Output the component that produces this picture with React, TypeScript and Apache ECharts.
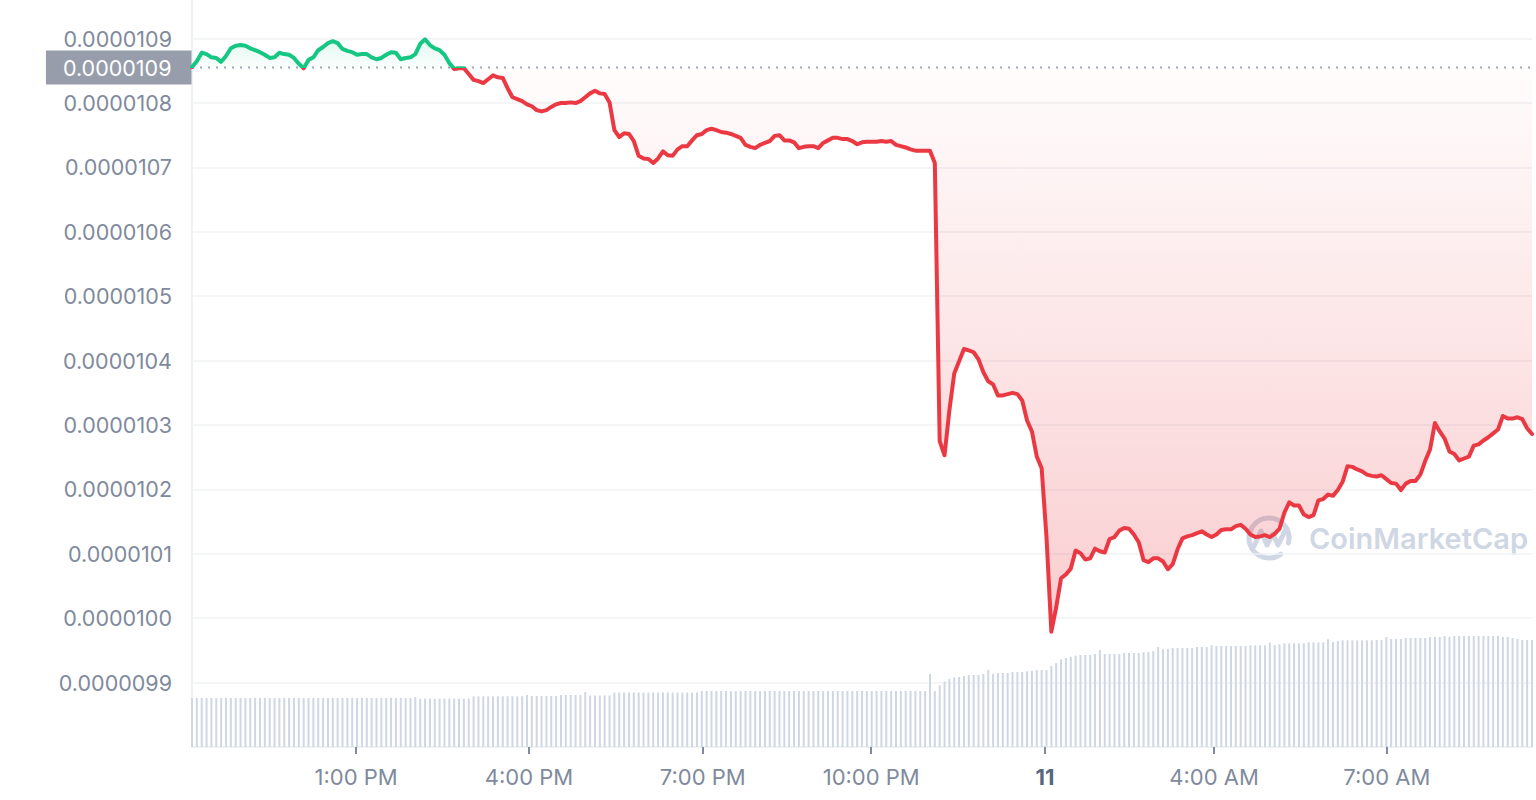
import React, { useEffect, useRef } from 'react';
import * as echarts from 'echarts';

// Opening price (dotted reference line)
const BASELINE = 108.55e-7;

// Price samples (5-minute steps, left to right)
const PRICES = [
  108.56e-7, 108.65e-7, 108.78e-7, 108.76e-7, 108.71e-7, 108.70e-7, 108.64e-7, 108.73e-7, 108.85e-7, 108.89e-7,
  108.90e-7, 108.89e-7, 108.85e-7, 108.82e-7, 108.79e-7, 108.75e-7, 108.70e-7, 108.71e-7, 108.78e-7, 108.76e-7,
  108.75e-7, 108.70e-7, 108.61e-7, 108.54e-7, 108.67e-7, 108.71e-7, 108.82e-7, 108.87e-7, 108.93e-7, 108.96e-7,
  108.93e-7, 108.84e-7, 108.81e-7, 108.79e-7, 108.75e-7, 108.76e-7, 108.76e-7, 108.71e-7, 108.68e-7, 108.70e-7,
  108.75e-7, 108.79e-7, 108.78e-7, 108.68e-7, 108.70e-7, 108.71e-7, 108.76e-7, 108.92e-7, 108.99e-7, 108.90e-7,
  108.85e-7, 108.82e-7, 108.75e-7, 108.62e-7, 108.53e-7, 108.54e-7, 108.54e-7, 108.45e-7, 108.36e-7, 108.34e-7,
  108.31e-7, 108.37e-7, 108.43e-7, 108.40e-7, 108.39e-7, 108.23e-7, 108.09e-7, 108.06e-7, 108.03e-7, 107.98e-7,
  107.95e-7, 107.89e-7, 107.87e-7, 107.89e-7, 107.94e-7, 107.98e-7, 108.00e-7, 108.00e-7, 108.01e-7, 108.00e-7,
  108.03e-7, 108.09e-7, 108.15e-7, 108.19e-7, 108.15e-7, 108.14e-7, 108.01e-7, 107.58e-7, 107.47e-7, 107.53e-7,
  107.52e-7, 107.41e-7, 107.18e-7, 107.14e-7, 107.13e-7, 107.07e-7, 107.14e-7, 107.25e-7, 107.19e-7, 107.18e-7,
  107.28e-7, 107.33e-7, 107.33e-7, 107.42e-7, 107.50e-7, 107.52e-7, 107.58e-7, 107.60e-7, 107.58e-7, 107.55e-7,
  107.54e-7, 107.52e-7, 107.49e-7, 107.46e-7, 107.35e-7, 107.32e-7, 107.30e-7, 107.35e-7, 107.38e-7, 107.41e-7,
  107.49e-7, 107.50e-7, 107.42e-7, 107.42e-7, 107.39e-7, 107.30e-7, 107.32e-7, 107.33e-7, 107.33e-7, 107.30e-7,
  107.38e-7, 107.42e-7, 107.46e-7, 107.46e-7, 107.44e-7, 107.44e-7, 107.41e-7, 107.36e-7, 107.39e-7, 107.40e-7,
  107.40e-7, 107.40e-7, 107.41e-7, 107.40e-7, 107.41e-7, 107.35e-7, 107.33e-7, 107.31e-7, 107.28e-7, 107.26e-7,
  107.26e-7, 107.26e-7, 107.26e-7, 107.07e-7, 102.75e-7, 102.53e-7, 103.23e-7, 103.80e-7, 103.99e-7, 104.18e-7,
  104.16e-7, 104.13e-7, 104.02e-7, 103.82e-7, 103.68e-7, 103.63e-7, 103.46e-7, 103.46e-7, 103.48e-7, 103.50e-7,
  103.48e-7, 103.38e-7, 103.07e-7, 102.90e-7, 102.51e-7, 102.33e-7, 101.26e-7, 99.79e-7, 100.17e-7, 100.62e-7,
  100.68e-7, 100.77e-7, 101.05e-7, 101.01e-7, 100.91e-7, 100.93e-7, 101.08e-7, 101.04e-7, 101.02e-7, 101.23e-7,
  101.26e-7, 101.36e-7, 101.40e-7, 101.39e-7, 101.30e-7, 101.18e-7, 100.90e-7, 100.87e-7, 100.93e-7, 100.93e-7,
  100.88e-7, 100.76e-7, 100.84e-7, 101.07e-7, 101.24e-7, 101.27e-7, 101.29e-7, 101.32e-7, 101.35e-7, 101.30e-7,
  101.26e-7, 101.30e-7, 101.37e-7, 101.38e-7, 101.38e-7, 101.43e-7, 101.45e-7, 101.39e-7, 101.30e-7, 101.26e-7,
  101.27e-7, 101.29e-7, 101.26e-7, 101.31e-7, 101.39e-7, 101.64e-7, 101.80e-7, 101.75e-7, 101.75e-7, 101.61e-7,
  101.57e-7, 101.60e-7, 101.83e-7, 101.85e-7, 101.92e-7, 101.90e-7, 101.99e-7, 102.12e-7, 102.36e-7, 102.35e-7,
  102.31e-7, 102.28e-7, 102.23e-7, 102.21e-7, 102.20e-7, 102.22e-7, 102.16e-7, 102.10e-7, 102.09e-7, 101.99e-7,
  102.09e-7, 102.13e-7, 102.13e-7, 102.23e-7, 102.44e-7, 102.62e-7, 103.03e-7, 102.90e-7, 102.79e-7, 102.59e-7,
  102.55e-7, 102.45e-7, 102.48e-7, 102.51e-7, 102.68e-7, 102.70e-7, 102.76e-7, 102.81e-7, 102.87e-7, 102.93e-7,
  103.14e-7, 103.10e-7, 103.10e-7, 103.12e-7, 103.09e-7, 102.95e-7, 102.86e-7,
];

// Relative volume per sample (same steps as PRICES)
const VOLUME = [
  49, 49, 49, 49, 49, 49, 49, 49, 49, 49,
  49, 49, 49, 49, 49, 49, 49, 49, 49, 49,
  49, 49, 49, 49, 49, 49, 49, 49, 49, 49,
  49, 49, 49, 49, 49, 49, 49, 49, 49, 49,
  49, 49, 49, 49, 49, 49, 50, 48.3, 48.3, 48.3,
  48.3, 48.3, 48.3, 48.3, 48.3, 48.3, 48.3, 48.3, 50.7, 50.7,
  50.7, 50.7, 50.7, 50.7, 50.7, 50.7, 50.7, 50.7, 50.7, 52,
  51, 51, 51, 51, 51, 51, 52, 52, 52, 52,
  52, 55, 51.5, 51.5, 51.5, 51.5, 51.5, 54.5, 54.5, 54.5,
  54.5, 54.5, 54.5, 54.5, 54.5, 54.5, 54.5, 54.5, 54.5, 54.5,
  54.5, 54.5, 54.5, 54.5, 54.5, 56, 56, 56, 56, 56,
  56, 56, 56, 56, 56, 56, 56, 56, 56, 56,
  56, 56, 56, 56, 56, 56, 56, 56, 56, 56,
  56, 56, 56, 56, 56, 56, 56, 56, 56, 56,
  56, 56, 56, 56, 56, 56, 56, 56, 56, 56,
  56, 56, 73, 56, 61.7, 65.5, 68, 69.7, 70, 71,
  72, 72, 72, 73, 77, 73.3, 74, 74, 74, 75,
  75, 75, 75.7, 76.3, 77, 77, 77, 81, 84, 87.7,
  89, 90.3, 91.3, 92, 92, 92, 93, 97, 93, 93,
  93, 93, 94, 94, 94, 94, 94.7, 95, 96, 100,
  97.7, 98, 99, 99, 99, 99, 99, 100, 100, 100,
  101.7, 101, 101, 101, 101, 101, 101, 101, 101.7, 101.7,
  101.7, 101.7, 104.3, 102, 102.7, 103.7, 103.7, 103.7, 103.7, 103.7,
  104.7, 104.7, 104.7, 104.7, 107.7, 105, 106, 106.7, 106.7, 106.7,
  106.7, 106.7, 106.7, 106.7, 107, 107, 110, 108, 108, 108,
  109, 109, 109, 109, 109, 110, 110, 110, 111, 110,
  111, 111, 111, 111, 111, 111, 111, 111, 111, 111,
  110, 110, 109, 108, 107, 107, 107,
];
const VOLUME_AXIS_MAX = 747;

// X-axis tick labels and the sample positions where they sit
const TICK_INDEX = [33.8, 69.4, 105.2, 139.9, 175.7, 210.5, 246.1];
const TICK_LABELS = ['1:00 PM', '4:00 PM', '7:00 PM', '10:00 PM', '11', '4:00 AM', '7:00 AM'];

const Y_MIN = 98e-7;
const Y_MAX = 109.6e-7;
const Y_STEP = 1e-7;

const GREEN = '#16c784';
const RED = '#ea3943';
const LABEL_GREY = '#808a9d';
const GRID_GREY = '#eff2f5';
const WATERMARK = '#cfd6e4';
const FONT = 'Inter, "Noto Sans", sans-serif';

export default function App() {
  const ref = useRef<HTMLDivElement>(null);

  useEffect(() => {
    if (!ref.current) return;
    const chart = echarts.init(ref.current, null, { renderer: 'svg' });

    const last = PRICES.length - 1;
    const lineData = PRICES.map((p, i) => [i, p]);
    const upData = PRICES.map((p, i) => [i, Math.max(p, BASELINE)]);
    const downData = PRICES.map((p, i) => [i, Math.min(p, BASELINE)]);
    const volData = VOLUME.map((v, i) => [i, v]);

    const option: any = {
      animation: false,
      backgroundColor: '#ffffff',
      grid: { left: 192, right: 4, top: 0, bottom: 53, containLabel: false },
      xAxis: {
        type: 'value',
        min: 0,
        max: last,
        splitLine: { show: false },
        axisLine: { show: true, onZero: false, lineStyle: { color: GRID_GREY, width: 2 } },
        axisTick: {
          show: true,
          customValues: TICK_INDEX,
          length: 7,
          lineStyle: { color: LABEL_GREY, width: 2 },
        },
        axisLabel: {
          show: true,
          customValues: TICK_INDEX,
          margin: 19,
          color: LABEL_GREY,
          fontSize: 22,
          fontFamily: FONT,
          formatter: (val: number) => {
            const k = TICK_INDEX.findIndex((t) => Math.abs(t - val) < 0.01);
            const s = k >= 0 ? TICK_LABELS[k] : '';
            return s === '11' ? '{b|11}' : s;
          },
          rich: {
            b: { fontWeight: 700, color: '#58667e', fontSize: 22, fontFamily: FONT },
          },
        },
      },
      yAxis: [
        {
          type: 'value',
          min: Y_MIN,
          max: Y_MAX,
          interval: Y_STEP,
          axisLine: { show: true, onZero: false, lineStyle: { color: GRID_GREY, width: 2 } },
          axisTick: { show: false },
          splitLine: { show: true, showMinLine: false, showMaxLine: false, lineStyle: { color: GRID_GREY, width: 1.5 } },
          axisLabel: {
            margin: 20,
            color: LABEL_GREY,
            fontSize: 21.5,
            fontFamily: FONT,
            showMinLabel: false,
            showMaxLabel: false,
            formatter: (v: number) => v.toFixed(7),
          },
        },
        { type: 'value', min: 0, max: VOLUME_AXIS_MAX, show: false },
      ],
      visualMap: {
        type: 'piecewise',
        show: false,
        seriesIndex: 3,
        dimension: 1,
        pieces: [
          { gt: BASELINE, lte: 1e-4, color: GREEN },
          { gte: 0, lte: BASELINE, color: RED },
        ],
        outOfRange: { color: RED },
      },
      series: [
        {
          type: 'bar',
          yAxisIndex: 1,
          data: volData,
          barWidth: 2,
          itemStyle: { color: WATERMARK },
          silent: true,
          z: 1,
        },
        {
          type: 'line',
          data: downData,
          symbol: 'none',
          lineStyle: { width: 0, opacity: 0 },
          areaStyle: {
            origin: BASELINE,
            color: new echarts.graphic.LinearGradient(0, 0, 0, 1, [
              { offset: 0, color: 'rgba(234,57,67,0.02)' },
              { offset: 1, color: 'rgba(234,57,67,0.36)' },
            ]),
          },
          silent: true,
          z: 2,
        },
        {
          type: 'line',
          data: upData,
          symbol: 'none',
          lineStyle: { width: 0, opacity: 0 },
          areaStyle: {
            origin: BASELINE,
            color: new echarts.graphic.LinearGradient(0, 0, 0, 1, [
              { offset: 0, color: 'rgba(22,199,132,0.18)' },
              { offset: 1, color: 'rgba(22,199,132,0.03)' },
            ]),
          },
          silent: true,
          z: 2,
        },
        {
          type: 'line',
          data: lineData,
          symbol: 'none',
          lineStyle: { width: 4, join: 'round', cap: 'round' },
          z: 5,
        },
        {
          type: 'line',
          data: [
            {
              value: [0, BASELINE],
              label: {
                show: true,
                position: 'left',
                distance: 0,
                formatter: () => BASELINE.toFixed(7),
                color: '#ffffff',
                fontSize: 21.5,
                fontFamily: FONT,
                backgroundColor: '#979dab',
                padding: [7, 20, 7, 17],
                lineHeight: 20,
              },
            },
            { value: [last, BASELINE] },
          ],
          symbol: 'circle',
          symbolSize: 1,
          showSymbol: true,
          showAllSymbol: true,
          itemStyle: { color: 'rgba(0,0,0,0)', borderWidth: 0 },
          lineStyle: { type: [2, 6], color: '#a1a7b5', width: 2 },
          silent: true,
          z: 3,
        },
      ],
      graphic: [
        {
          type: 'group',
          z: 10,
          silent: true,
          children: [
            {
              type: 'arc',
              shape: { cx: 1269, cy: 538, r: 20, startAngle: Math.PI * 0.3, endAngle: Math.PI * 2.08, clockwise: true },
              style: { stroke: WATERMARK, lineWidth: 5, fill: 'none', lineCap: 'round' },
            },
            {
              type: 'polyline',
              shape: { points: [[1254, 546], [1261, 531], [1267, 545], [1273, 534], [1278, 545], [1285, 531]] },
              style: { stroke: WATERMARK, lineWidth: 5, fill: 'none', lineJoin: 'round', lineCap: 'round' },
            },
            {
              type: 'text',
              style: {
                text: 'CoinMarketCap',
                x: 1309,
                y: 538,
                verticalAlign: 'middle',
                fill: WATERMARK,
                fontSize: 29,
                fontWeight: 600,
                fontFamily: FONT,
              },
            },
          ],
        },
      ],
    };

    chart.setOption(option);
    return () => chart.dispose();
  }, []);

  return (
    <div
      ref={ref}
      style={{ position: 'fixed', left: 0, top: 0, width: 1536, height: 800, background: '#ffffff' }}
    />
  );
}
